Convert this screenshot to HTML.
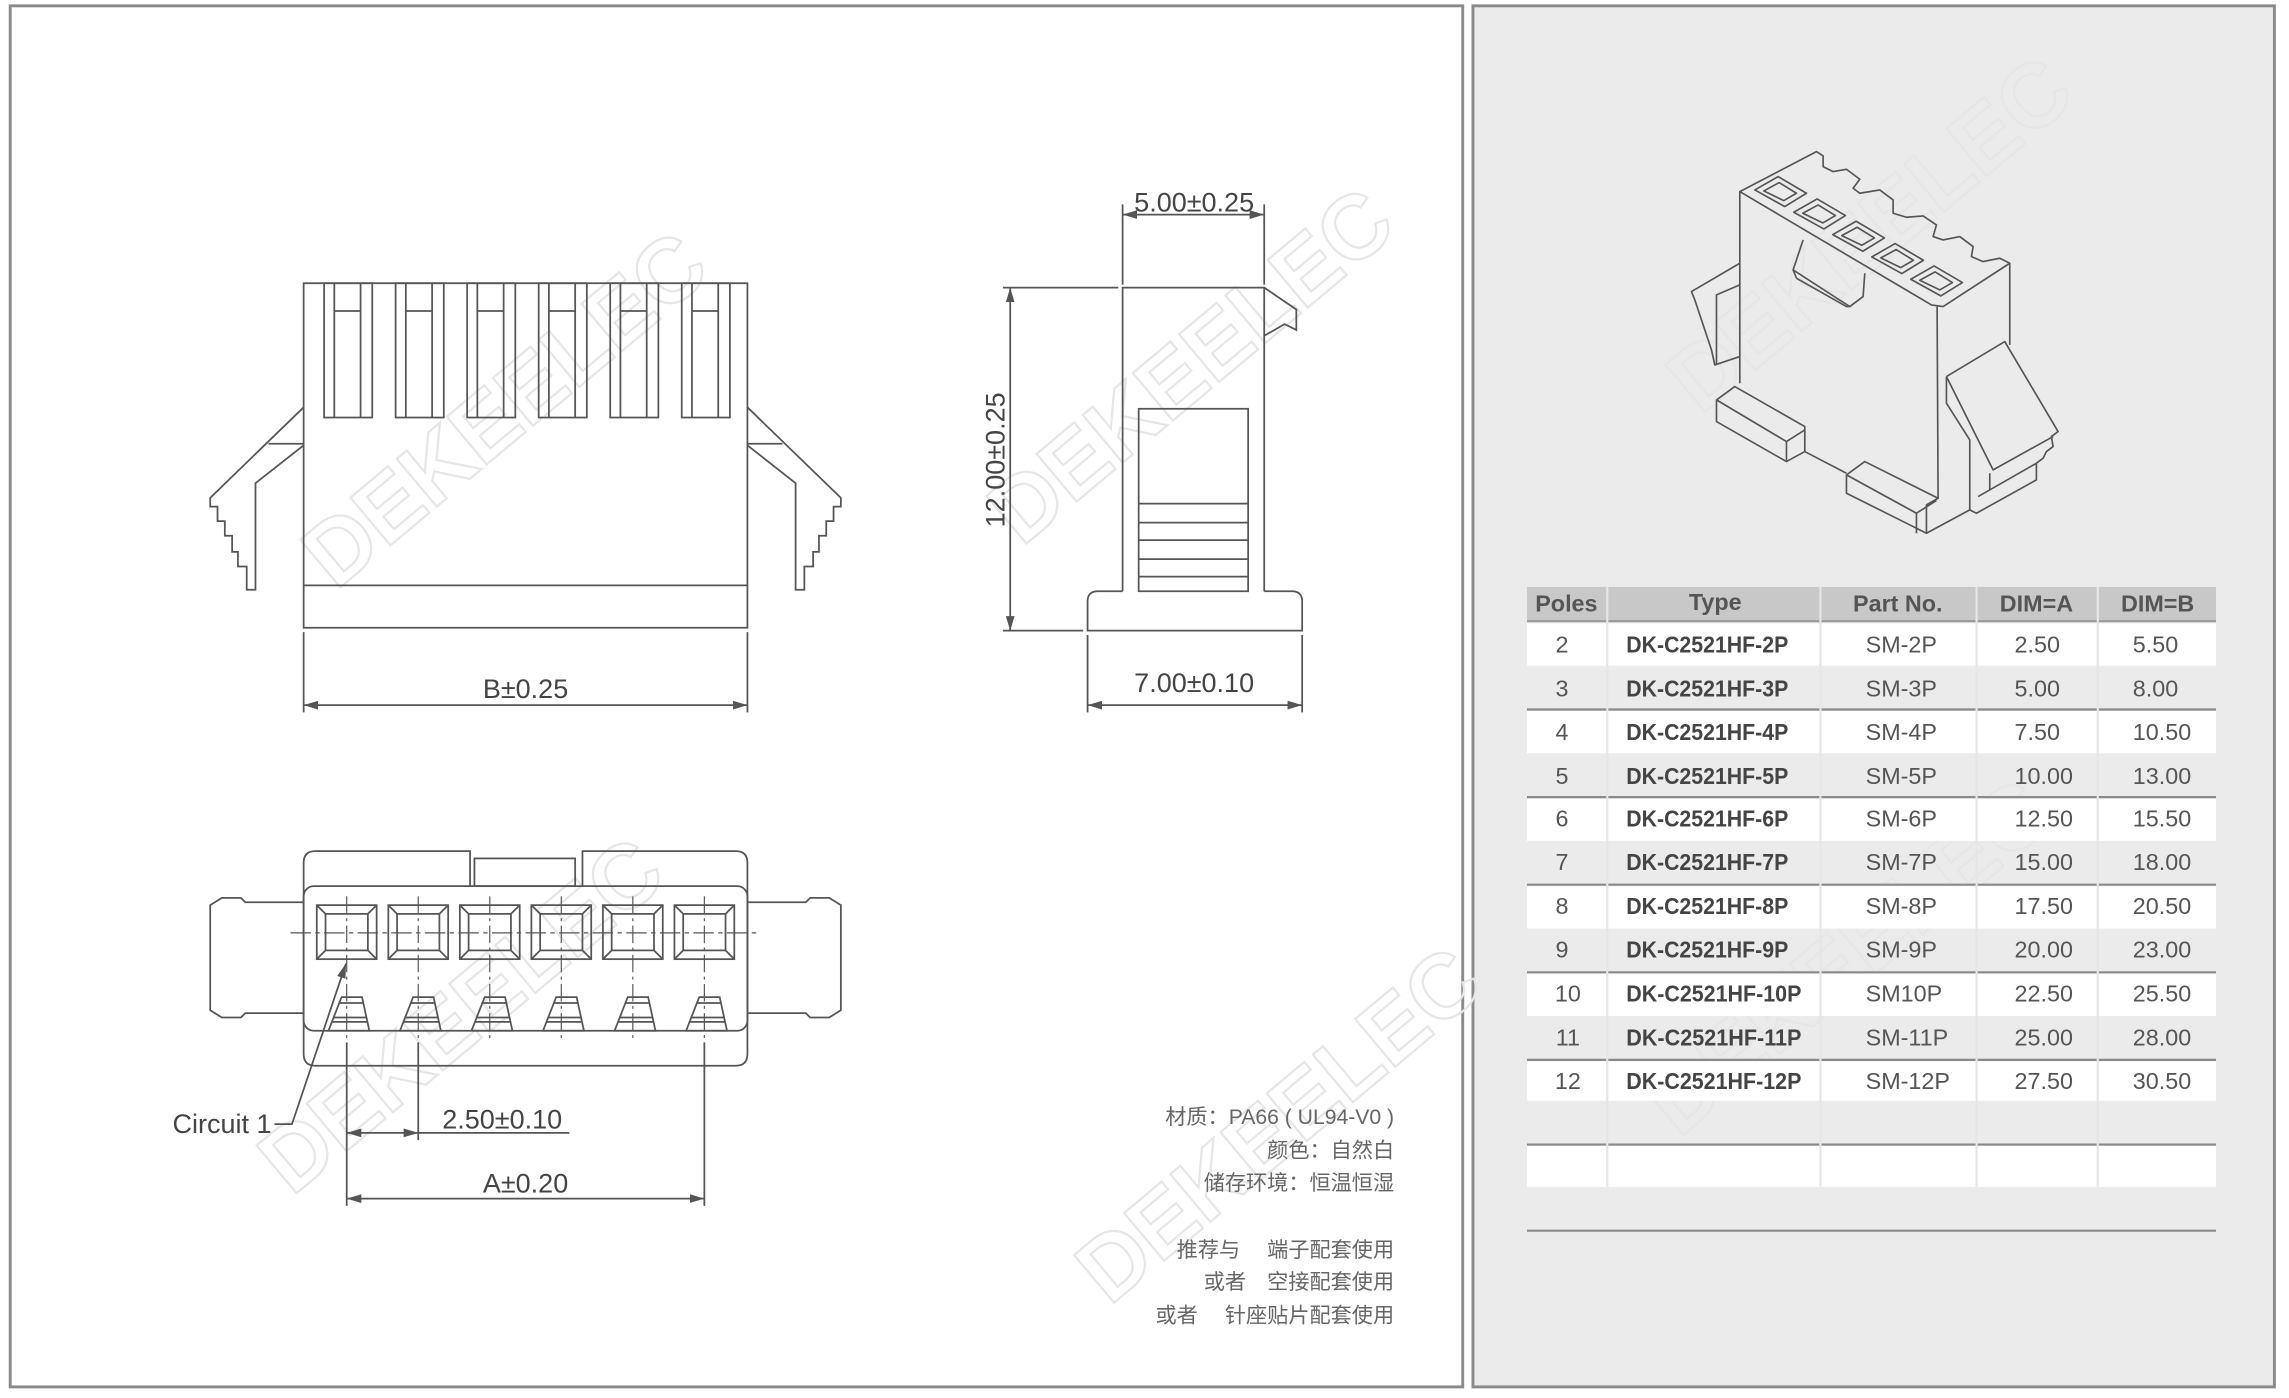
<!DOCTYPE html>
<html><head><meta charset="utf-8"><style>
html,body{margin:0;padding:0;background:#fff;}
svg{display:block;}
text{font-family:"Liberation Sans","Noto Sans CJK SC",sans-serif;}
.n{font-family:"Liberation Sans Narrow","Liberation Sans","Noto Sans CJK SC",sans-serif;}
</style></head><body>
<svg width="2289" height="1398" viewBox="0 0 1568 957.6" preserveAspectRatio="none" xmlns="http://www.w3.org/2000/svg">
<defs>
<marker id="a" viewBox="0 0 10 6" refX="10" refY="3" markerWidth="10" markerHeight="6" orient="auto-start-reverse" markerUnits="userSpaceOnUse"><path d="M0,0L10,3L0,6z" fill="#555"/></marker>
</defs>
<rect width="1568" height="958" fill="#fff"/>
<rect x="7" y="4" width="995" height="946" fill="#fff" stroke="#8a8a8a" stroke-width="2"/>
<rect x="1009" y="4" width="549" height="946" fill="#ebebeb" stroke="#8a8a8a" stroke-width="2"/>

<!-- watermarks -->
<g font-size="62" font-weight="bold" fill="none" stroke="#e6e6e6" stroke-width="1.5" class="n">
<text transform="translate(230,405) rotate(-40)">DEKEELEC</text>
<text transform="translate(700,375) rotate(-40)">DEKEELEC</text>
<text transform="translate(200,820) rotate(-40)">DEKEELEC</text>
<text transform="translate(760,895) rotate(-40)">DEKEELEC</text>
<text transform="translate(1165,285) rotate(-40)">DEKEELEC</text>
<text transform="translate(1150,780) rotate(-40)">DEKEELEC</text>
</g>

<g fill="none" stroke="#555" stroke-width="1.2">
<!-- front view -->
<rect x="208" y="194" width="304" height="236"/>
<line x1="208" y1="401" x2="512" y2="401"/>
<g id="s">
<rect x="222" y="194" width="33" height="92"/>
<line x1="229" y1="194" x2="229" y2="286"/><line x1="247" y1="194" x2="247" y2="286"/>
<line x1="229" y1="213" x2="247" y2="213"/>
</g>
<use href="#s" x="49"/><use href="#s" x="98"/><use href="#s" x="147"/><use href="#s" x="196"/><use href="#s" x="245"/>
<g id="lt">
<polyline points="208,279 144,341 144,347 149,347 149,357 154,357 154,367 159,367 159,378 163,378 163,388 169,388 169,404 175,404 175,331 208,305"/>
<line x1="184" y1="304" x2="208" y2="304"/>
</g>
<use href="#lt" transform="translate(720,0) scale(-1,1)"/>
<line x1="208" y1="433" x2="208" y2="488"/><line x1="512" y1="433" x2="512" y2="488"/>
<line x1="208" y1="483" x2="512" y2="483" marker-start="url(#a)" marker-end="url(#a)"/>

<!-- side view -->
<polyline points="769,405 769,197 866,197 866,405"/>
<polyline points="866,197 888,212 888,226 880,222 866,230"/>
<path d="M769,405 H752 Q745,405 745,412 V432 H892 V412 Q892,405 885,405 H866"/>
<rect x="780" y="280" width="75" height="125"/>
<line x1="780" y1="345" x2="855" y2="345"/><line x1="780" y1="358" x2="855" y2="358"/>
<line x1="780" y1="370" x2="855" y2="370"/><line x1="780" y1="383" x2="855" y2="383"/><line x1="780" y1="395" x2="855" y2="395"/>
<line x1="769" y1="140" x2="769" y2="195"/><line x1="866" y1="140" x2="866" y2="195"/>
<line x1="769" y1="147" x2="866" y2="147" marker-start="url(#a)" marker-end="url(#a)"/>
<line x1="687" y1="197" x2="766" y2="197"/><line x1="687" y1="432" x2="742" y2="432"/>
<line x1="692" y1="197" x2="692" y2="432" marker-start="url(#a)" marker-end="url(#a)"/>
<line x1="745" y1="435" x2="745" y2="488"/><line x1="892" y1="435" x2="892" y2="488"/>
<line x1="745" y1="483" x2="892" y2="483" marker-start="url(#a)" marker-end="url(#a)"/>

<!-- bottom view -->
<path d="M322,607 V583 H216 Q208,583 208,591 V722 Q208,730 216,730 H504 Q512,730 512,722 V591 Q512,583 504,583 H399 V607"/>
<rect x="325" y="588" width="69" height="19"/>
<rect x="208" y="607" width="304" height="99" rx="7"/>
<path d="M208,618 H168 L165,615 H152 L144,620 V692 L152,697 H165 L168,694 H208"/>
<path d="M512,618 H552 L555,615 H568 L576,620 V692 L568,697 H555 L552,694 H512"/>
<g id="c">
<rect x="217" y="620" width="41" height="37"/>
<rect x="223" y="626" width="29" height="25"/>
<line x1="217" y1="620" x2="223" y2="626"/><line x1="258" y1="620" x2="252" y2="626"/>
<line x1="217" y1="657" x2="223" y2="651"/><line x1="258" y1="657" x2="252" y2="651"/>
<polygon points="225,706 253,706 248,683 234,683"/>
<line x1="232" y1="687" x2="249" y2="687"/><line x1="228" y1="697" x2="251" y2="697"/><line x1="227" y1="700" x2="252" y2="700"/>
<line x1="237.5" y1="614" x2="237.5" y2="714" stroke-dasharray="12,3,2,3" stroke-width="0.8"/>
</g>
<use href="#c" x="49"/><use href="#c" x="98"/><use href="#c" x="147"/><use href="#c" x="196"/><use href="#c" x="245"/>
<line x1="199" y1="639" x2="521" y2="639" stroke-dasharray="14,3,3,3" stroke-width="0.8"/>
<line x1="237.5" y1="714" x2="237.5" y2="826"/><line x1="286.5" y1="714" x2="286.5" y2="781"/><line x1="482.5" y1="714" x2="482.5" y2="826"/>
<line x1="237.5" y1="776" x2="286.5" y2="776" marker-start="url(#a)" marker-end="url(#a)"/>
<line x1="286.5" y1="776" x2="390" y2="776"/>
<line x1="237.5" y1="821" x2="482.5" y2="821" marker-start="url(#a)" marker-end="url(#a)"/>
<polyline points="188,770 200,770 237,660" marker-end="url(#a)"/>
</g>

<g fill="#444" font-size="18.5" class="n">
<text x="360" y="478" text-anchor="middle">B±0.25</text>
<text x="818" y="145" text-anchor="middle">5.00±0.25</text>
<text x="818" y="474" text-anchor="middle">7.00±0.10</text>
<text transform="translate(688,315) rotate(-90)" text-anchor="middle">12.00±0.25</text>
<text x="344" y="773" text-anchor="middle">2.50±0.10</text>
<text x="360" y="817" text-anchor="middle">A±0.20</text>
<text x="186" y="776" text-anchor="end">Circuit 1</text>
</g>
<g fill="#666" font-size="14.5" text-anchor="end">
<text x="955" y="770">材质：PA66 ( UL94-V0 )</text>
<text x="955" y="793">颜色：自然白</text>
<text x="955" y="815">储存环境：恒温恒湿</text>
<text x="955" y="861">推荐与　 端子配套使用</text>
<text x="955" y="883">或者　空接配套使用</text>
<text x="955" y="906">或者　 针座贴片配套使用</text>
</g>

<!-- 3D view -->
<g transform="translate(1137,89) scale(0.2283)" fill="none" stroke="#555" stroke-width="5" stroke-linejoin="round">
<polyline points="240,185 470,65 490,78 490,110 520,125 560,118 600,148 580,175 600,190 660,180 700,210 700,250 740,262 790,258 830,285 820,320 850,330 900,320 940,350 935,380 970,395 1020,385 1050,400 1050,645"/>
<polyline points="240,760 240,185 815,525 850,530 1050,400"/>
<line x1="832" y1="530" x2="835" y2="1105"/>
<g id="t"><polygon points="285,180 355,140 440,190 375,230"/><polygon points="312,183 358,158 410,190 372,212"/></g>
<use href="#t" x="117" y="67"/><use href="#t" x="234" y="134"/><use href="#t" x="351" y="201"/><use href="#t" x="468" y="268"/>
<polyline points="430,330 400,420 570,530 610,500 615,430"/><line x1="400" y1="420" x2="410" y2="445"/><polyline points="410,445 560,530 570,530"/>
<polyline points="240,400 95,485 105,510 115,540 125,570 135,600 145,630 155,660 165,705 240,680"/>
<polyline points="170,705 170,495 240,465"/>
<polygon points="170,810 225,770 435,890 435,965 380,995 170,875"/>
<polyline points="170,810 380,935 435,900"/><line x1="380" y1="935" x2="380" y2="995"/>
<line x1="435" y1="965" x2="560" y2="1030"/>
<polygon points="560,1035 615,995 835,1105 800,1125 800,1210 560,1090"/>
<polyline points="560,1035 770,1150 830,1112"/><line x1="770" y1="1150" x2="770" y2="1210"/>
<polyline points="800,1210 930,1140"/>
<polyline points="860,740 1035,635 1195,905 1175,920 1180,950 1160,965 1150,985 1130,1000 1130,1050 950,1150 930,1140 930,930 860,820 860,740"/>
<polyline points="860,740 1000,1020 1180,920"/>
<line x1="990" y1="1030" x2="990" y2="1080"/><polyline points="955,1100 1130,1000"/>
</g>

<!-- table -->
<rect x="1046" y="402" width="472" height="23" fill="#c8c8c8"/>
<line x1="1046" y1="425.5" x2="1518" y2="425.5" stroke="#999" stroke-width="1.5"/>
<g fill="#fff">
<rect x="1046" y="427" width="472" height="29"/><rect x="1046" y="487" width="472" height="29"/>
<rect x="1046" y="547" width="472" height="29"/><rect x="1046" y="607" width="472" height="29"/>
<rect x="1046" y="667" width="472" height="29"/><rect x="1046" y="727" width="472" height="27"/>
<rect x="1046" y="785" width="472" height="28"/>
</g>
<g stroke="#8a8a8a" stroke-width="1.5">
<line x1="1046" y1="486" x2="1518" y2="486"/><line x1="1046" y1="546" x2="1518" y2="546"/>
<line x1="1046" y1="606" x2="1518" y2="606"/><line x1="1046" y1="666" x2="1518" y2="666"/>
<line x1="1046" y1="726" x2="1518" y2="726"/><line x1="1046" y1="784" x2="1518" y2="784"/>
<line x1="1046" y1="843" x2="1518" y2="843"/>
</g>
<g stroke="#e6e6e6" stroke-width="1.5">
<line x1="1101" y1="402" x2="1101" y2="813"/><line x1="1247" y1="402" x2="1247" y2="813"/>
<line x1="1354" y1="402" x2="1354" y2="813"/><line x1="1437" y1="402" x2="1437" y2="813"/>
</g>
<g font-size="16" fill="#555" font-weight="bold" class="n" text-anchor="middle">
<text x="1073" y="419">Poles</text><text x="1175" y="418">Type</text><text x="1300" y="419">Part No.</text><text x="1395" y="419">DIM=A</text><text x="1478" y="419">DIM=B</text>
</g>
<g font-size="16" fill="#555" class="n">
<g text-anchor="middle">
<text x="1070" y="447">2</text><text x="1070" y="477">3</text><text x="1070" y="507">4</text><text x="1070" y="537">5</text><text x="1070" y="566">6</text><text x="1070" y="596">7</text><text x="1070" y="626">8</text><text x="1070" y="656">9</text><text x="1074" y="686">10</text><text x="1074" y="716">11</text><text x="1074" y="746">12</text>
</g>
<g font-weight="bold" fill="#444" lengthAdjust="spacingAndGlyphs">
<text x="1114" y="447" textLength="111" lengthAdjust="spacingAndGlyphs">DK-C2521HF-2P</text>
<text x="1114" y="477" textLength="111" lengthAdjust="spacingAndGlyphs">DK-C2521HF-3P</text>
<text x="1114" y="507" textLength="111" lengthAdjust="spacingAndGlyphs">DK-C2521HF-4P</text>
<text x="1114" y="537" textLength="111" lengthAdjust="spacingAndGlyphs">DK-C2521HF-5P</text>
<text x="1114" y="566" textLength="111" lengthAdjust="spacingAndGlyphs">DK-C2521HF-6P</text>
<text x="1114" y="596" textLength="111" lengthAdjust="spacingAndGlyphs">DK-C2521HF-7P</text>
<text x="1114" y="626" textLength="111" lengthAdjust="spacingAndGlyphs">DK-C2521HF-8P</text>
<text x="1114" y="656" textLength="111" lengthAdjust="spacingAndGlyphs">DK-C2521HF-9P</text>
<text x="1114" y="686" textLength="120" lengthAdjust="spacingAndGlyphs">DK-C2521HF-10P</text>
<text x="1114" y="716" textLength="120" lengthAdjust="spacingAndGlyphs">DK-C2521HF-11P</text>
<text x="1114" y="746" textLength="120" lengthAdjust="spacingAndGlyphs">DK-C2521HF-12P</text>
</g>
<g>
<text x="1278" y="447">SM-2P</text><text x="1278" y="477">SM-3P</text><text x="1278" y="507">SM-4P</text><text x="1278" y="537">SM-5P</text><text x="1278" y="566">SM-6P</text><text x="1278" y="596">SM-7P</text><text x="1278" y="626">SM-8P</text><text x="1278" y="656">SM-9P</text><text x="1278" y="686">SM10P</text><text x="1278" y="716">SM-11P</text><text x="1278" y="746">SM-12P</text>
</g>
<g>
<text x="1380" y="447">2.50</text><text x="1380" y="477">5.00</text><text x="1380" y="507">7.50</text><text x="1380" y="537">10.00</text><text x="1380" y="566">12.50</text><text x="1380" y="596">15.00</text><text x="1380" y="626">17.50</text><text x="1380" y="656">20.00</text><text x="1380" y="686">22.50</text><text x="1380" y="716">25.00</text><text x="1380" y="746">27.50</text>
</g>
<g>
<text x="1461" y="447">5.50</text><text x="1461" y="477">8.00</text><text x="1461" y="507">10.50</text><text x="1461" y="537">13.00</text><text x="1461" y="566">15.50</text><text x="1461" y="596">18.00</text><text x="1461" y="626">20.50</text><text x="1461" y="656">23.00</text><text x="1461" y="686">25.50</text><text x="1461" y="716">28.00</text><text x="1461" y="746">30.50</text>
</g>
</g>
</svg>
</body></html>
